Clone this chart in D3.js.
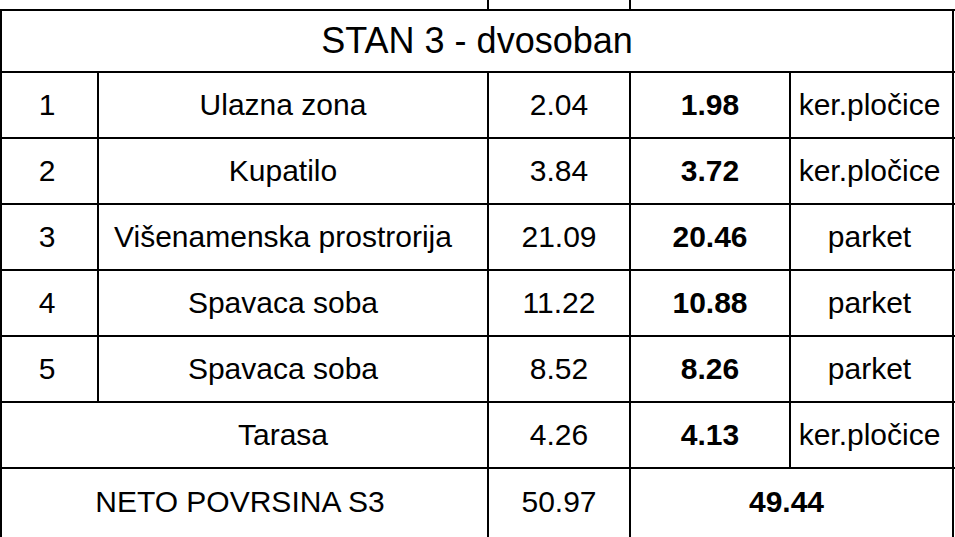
<!DOCTYPE html>
<html><head><meta charset="utf-8">
<script src="https://cdn.jsdelivr.net/npm/d3@7"></script>
<style>body{margin:0;background:#fff}</style></head>
<body><svg id="c" width="955" height="537"></svg>
<script>
const title = "STAN 3 - dvosoban";
const ids = ["1","2","3","4","5",""];
const rooms = ["Ulazna zona","Kupatilo","Višenamenska prostrorija","Spavaca soba","Spavaca soba","Tarasa"];
const gross = ["2.04","3.84","21.09","11.22","8.52","4.26"];
const net = ["1.98","3.72","20.46","10.88","8.26","4.13"];
const floors = ["ker.pločice","ker.pločice","parket","parket","parket","ker.pločice"];
const totalLabel = "NETO POVRSINA S3";
const totalGross = "50.97";
const totalNet = "49.44";

const svg = d3.select("#c");
const cols = [0, 98, 488, 630, 790, 953];
const y = d3.scaleLinear().domain([1, 8]).range([72, 534]);
const yr = i => i===0 ? 10 : y(i);
const font = "Liberation Sans, Arial, sans-serif";
const g = svg.append("g").attr("stroke","#000").attr("stroke-width",2);
d3.range(0, 8).forEach(i => g.append("line").attr("x1",0).attr("x2",955).attr("y1",yr(i)).attr("y2",yr(i)));
[cols[0]+1, cols[5]].forEach(x => g.append("line").attr("x1",x).attr("x2",x).attr("y1",yr(0)).attr("y2",537));
[cols[2], cols[3]].forEach(x => g.append("line").attr("x1",x).attr("x2",x).attr("y1",0).attr("y2",yr(0)));
g.append("line").attr("x1",cols[1]).attr("x2",cols[1]).attr("y1",yr(1)).attr("y2",yr(6));
cols.slice(2,5).forEach(x => g.append("line").attr("x1",x).attr("x2",x).attr("y1",yr(1)).attr("y2",yr(7)));
[cols[2], cols[3]].forEach(x => g.append("line").attr("x1",x).attr("x2",x).attr("y1",yr(7)).attr("y2",537));

function txt(x, row, s, size, bold){
  const top = yr(row), bot = row===7 ? 537 : yr(row+1);
  svg.append("text").attr("x",x).attr("y",(top+bot)/2 + size*0.33)
    .attr("text-anchor","middle").attr("font-family",font).attr("font-size",size)
    .attr("font-weight",bold?"bold":"normal").text(s);
}
const mid = (a,b)=>(cols[a]+cols[b])/2;
txt(477, 0, title, 36);
ids.forEach((d,i)=>{
  const r=i+1;
  txt(mid(0,1)-2, r, d, 30);
  txt(mid(1,2)-10, r, rooms[i], 30);
  txt(mid(2,3), r, gross[i], 30);
  txt(mid(3,4), r, net[i], 30, true);
  txt(mid(4,5)-2, r, floors[i], 30);
});
txt(mid(0,2)-4, 7, totalLabel, 30);
txt(mid(2,3), 7, totalGross, 30);
txt(mid(3,5)-5, 7, totalNet, 30, true);
</script></body></html>
